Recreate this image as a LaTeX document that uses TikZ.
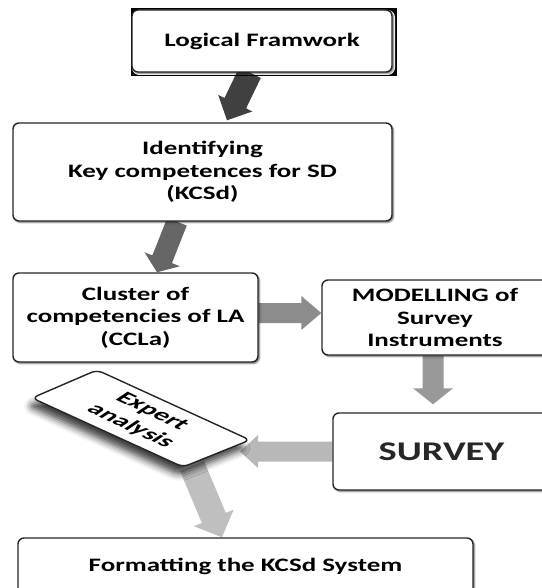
\documentclass[tikz,border=0pt]{standalone}
\usepackage{fontspec}
\newfontfamily\boxfont{Carlito}[FakeStretch=1.42]
\usetikzlibrary{calc,shadows.blur}

\pgfdeclarelayer{paper}
\pgfdeclarelayer{arrows}
\pgfsetlayers{paper,arrows,main}

% Block arrow from #1 to #2: half shaft width #3, half head width #4,
% head length #5 (all in pt), fill colour #6
\newcommand\blockarrow[6]{%
  \path let \p1=(#1), \p2=(#2) in \pgfextra{%
    \pgfmathsetmacro\baAng{atan2(\y2-\y1,\x2-\x1)}%
    \pgfmathsetmacro\baLen{veclen(\x2-\x1,\y2-\y1)}%
    \pgfmathsetmacro\baX{\x1}%
    \pgfmathsetmacro\baY{\y1}%
    \xdef\baAngG{\baAng}\xdef\baLenG{\baLen}%
    \xdef\baXG{\baX}\xdef\baYG{\baY}};
  \fill[#6, shift={(\baXG pt,\baYG pt)}, rotate=\baAngG]
    (0pt,-#3pt) -- ({(\baLenG-#5)*1pt},-#3pt) -- ({(\baLenG-#5)*1pt},-#4pt)
    -- ({\baLenG*1pt},0pt) -- ({(\baLenG-#5)*1pt},#4pt)
    -- ({(\baLenG-#5)*1pt},#3pt) -- (0pt,#3pt) -- cycle;
}

\tikzset{
  boxtext/.style={font={\boxfont\bfseries\fontsize{19}{22.5}\selectfont}},
  flowbox/.style={boxtext, draw=black!85, line width=1.4pt, rounded corners=6pt,
    fill=white, align=center, inner sep=0pt,
    blur shadow={shadow xshift=1.5pt, shadow yshift=-1.5pt,
      shadow blur radius=1.5pt, shadow opacity=55}},
  expertshape/.style={draw=black!85, line width=1.4pt, rounded corners=6pt,
    fill=white,
    blur shadow={shadow xshift=-4pt, shadow yshift=-8pt,
      shadow blur radius=7pt, shadow opacity=75}},
}

\begin{document}
\begin{tikzpicture}[x=1pt,y=-1pt]
\useasboundingbox (0,0) rectangle (541,588);
\begin{pgfonlayer}{paper}
  \fill[white] (0,0) rectangle (541,588);
\end{pgfonlayer}

% process boxes
\node[flowbox, minimum width=260pt, minimum height=62pt] (lf) at (262,41) {Logical Framwork};
\node[flowbox, minimum width=379pt, minimum height=98pt] (id) at (202.5,172)
  {Identifying\\Key competences for SD\\(KCSd)};
\node[flowbox, minimum width=245pt, minimum height=89pt] (cl) at (135.5,317.5)
  {Cluster of\\competencies of LA\\(CCLa)};
\node[flowbox, minimum width=226pt, minimum height=75pt] (mo) at (435,317.5)
  {MODELLING of\\Survey\\Instruments};
\node[flowbox, minimum width=217pt, minimum height=77pt, text=black!85,
  font={\boxfont\bfseries\fontsize{27}{30}\selectfont}] (su) at (441.5,451.5) {SURVEY};
\node[flowbox, minimum width=455pt, minimum height=56pt] (fo) at (245.5,566)
  {\raisebox{2pt}{Formatting the KCSd System}};

% tilted "expert analysis" card, drawn in perspective
\coordinate (eaL) at (32,398);
\coordinate (eaT) at (97,370);
\coordinate (eaR) at (250,440);
\coordinate (eaB) at (183,467);
\coordinate (eaIn) at (240,451.5);
\coordinate (eaOut) at (192,466);
\draw[expertshape] (eaL) -- (eaT) -- (eaR) -- (eaB) -- cycle;
\node[boxtext, align=center, rotate=-25, xslant=0.6, inner sep=0pt] (ea) at (141,419)
  {Expert\\analysis};

% block arrows between the steps
\begin{pgfonlayer}{arrows}
  \blockarrow{[xshift=-12pt]lf.south}{[xshift=24.5pt,yshift=2pt]id.north}{12}{19}{19}{black!75}
  \blockarrow{[xshift=-25.5pt]id.south}{[xshift=21.5pt]cl.north}{10.5}{19}{14}{black!60}
  \blockarrow{[yshift=4.5pt]cl.east}{[yshift=4.5pt]mo.west}{10}{17}{20}{black!45}
  \blockarrow{[xshift=-2pt]mo.south}{[xshift=-8.5pt,yshift=8pt]su.north}{10.5}{20}{16}{black!40}
  \blockarrow{su.west}{eaIn}{10}{16.5}{18}{black!28}
  \blockarrow{eaOut}{[xshift=-23.5pt]fo.north}{13}{21.5}{21}{black!25}
\end{pgfonlayer}
\end{tikzpicture}
\end{document}
